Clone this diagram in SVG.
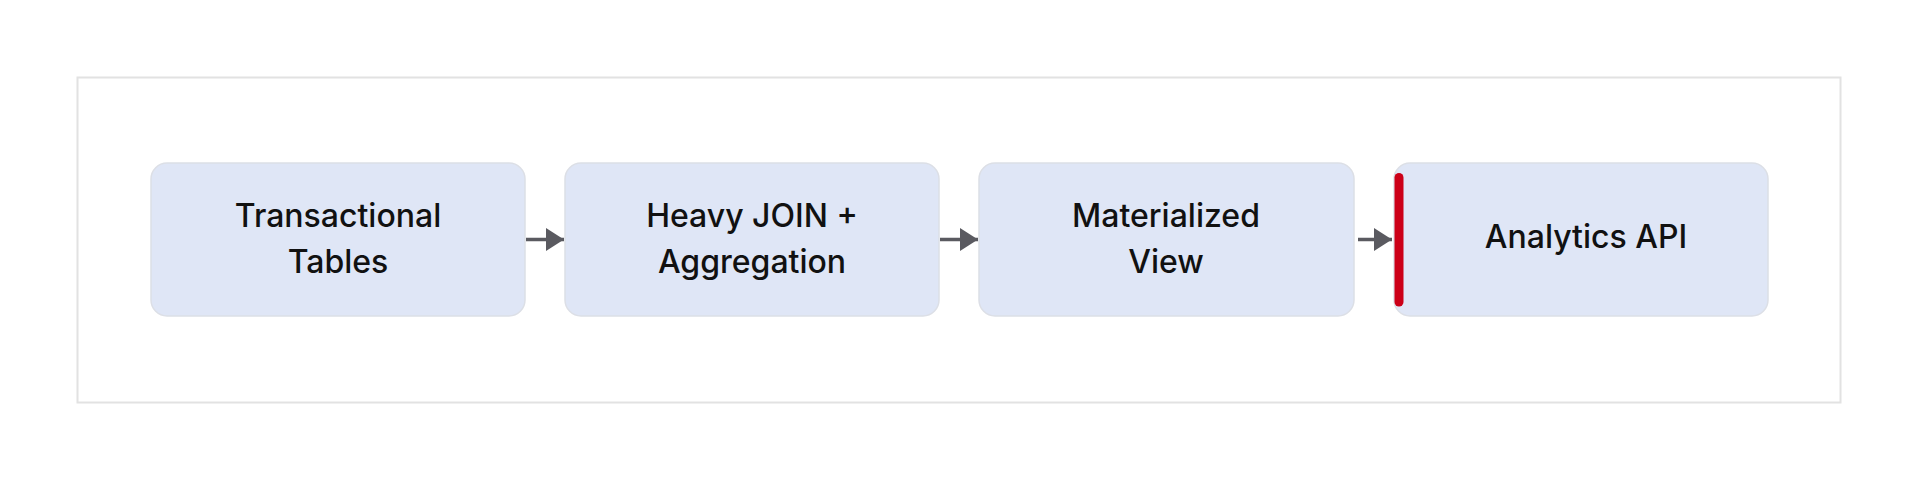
<svg xmlns="http://www.w3.org/2000/svg" width="1920" height="480" viewBox="0 0 1920 480">
  <defs>
    <style>
      .frame { fill: #ffffff; stroke: #e2e2e2; stroke-width: 2; }
      .box { fill: #dfe6f6; stroke: #dcdfe6; stroke-width: 1.5; }
      .lbl { font-family: Inter, "Noto Sans", "Liberation Sans", sans-serif; font-size: 32px; font-weight: 500; fill: #111111; text-anchor: middle; }
      .edge { stroke: #5a5a60; stroke-width: 3.5; fill: none; }
      .accent { stroke: #cc0018; stroke-width: 9; stroke-linecap: round; }
    </style>
    <marker id="ah" markerWidth="18" markerHeight="23" refX="18" refY="11.5" orient="auto" markerUnits="userSpaceOnUse">
      <path d="M0,0 L18,11.5 L0,23 Z" fill="#5a5a60"/>
    </marker>
  </defs>
  <rect width="1920" height="480" fill="#ffffff"/>
  <rect class="frame" x="77.5" y="77.5" width="1763" height="325"/>

  <g id="connectors">
    <line class="edge" x1="526" y1="239.5" x2="564" y2="239.5" marker-end="url(#ah)"/>
    <line class="edge" x1="940" y1="239.5" x2="978" y2="239.5" marker-end="url(#ah)"/>
    <line class="edge" x1="1358" y1="239.5" x2="1392" y2="239.5" marker-end="url(#ah)"/>
  </g>

  <g id="node-transactional-tables">
    <rect class="box" x="151" y="163" width="374" height="153" rx="16"/>
    <text class="lbl" x="338" y="227">Transactional</text>
    <text class="lbl" x="338" y="273">Tables</text>
  </g>
  <g id="node-heavy-join">
    <rect class="box" x="565" y="163" width="374" height="153" rx="16"/>
    <text class="lbl" x="752" y="227">Heavy JOIN +</text>
    <text class="lbl" x="752" y="273">Aggregation</text>
  </g>
  <g id="node-materialized-view">
    <rect class="box" x="979" y="163" width="375" height="153" rx="16"/>
    <text class="lbl" x="1166" y="227">Materialized</text>
    <text class="lbl" x="1166" y="273">View</text>
  </g>
  <g id="node-analytics-api">
    <rect class="box" x="1394" y="163" width="374" height="153" rx="16"/>
    <line class="accent" x1="1399" y1="177.5" x2="1399" y2="302"/>
    <text class="lbl" x="1586" y="248">Analytics API</text>
  </g>
</svg>
